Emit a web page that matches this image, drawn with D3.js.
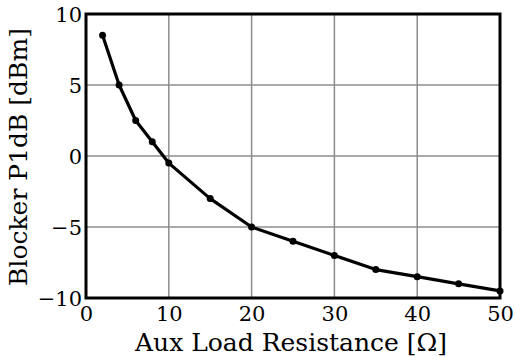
<!DOCTYPE html>
<html><head><meta charset="utf-8">
<script src="https://cdn.jsdelivr.net/npm/d3@7"></script>
<style>
html,body{margin:0;padding:0;background:#fff;}
svg{display:block;}
</style></head>
<body>
<script>
const resistance = [2, 4, 6, 8, 10, 15, 20, 25, 30, 35, 40, 45, 50];
const p1db = [8.5, 5, 2.5, 1, -0.5, -3, -5, -6, -7, -8, -8.5, -9, -9.5];
const xTicks = [0, 10, 20, 30, 40, 50];
const yTicks = [-10, -5, 0, 5, 10];
const xTitle = "Aux Load Resistance [Ω]";
const yTitle = "Blocker P1dB [dBm]";

const FONT = "'DejaVu Serif', serif";
const W = 515, H = 356;
const m = {left: 86, right: 15, top: 14, bottom: 58};
const svg = d3.select("body").append("svg").attr("width", W).attr("height", H)
  .style("font-family", FONT);
const x = d3.scaleLinear().domain([0, 50]).range([m.left, W - m.right]);
const y = d3.scaleLinear().domain([-10, 10]).range([H - m.bottom, m.top]);

// grid
const g = svg.append("g");
g.selectAll(".vx").data(xTicks.slice(1, -1)).join("line")
  .attr("x1", d => x(d)).attr("x2", d => x(d))
  .attr("y1", y(-10)).attr("y2", y(10))
  .attr("stroke", "#8c8c8c").attr("stroke-width", 1.5);
g.selectAll(".hy").data(yTicks.slice(1, -1)).join("line")
  .attr("x1", x(0)).attr("x2", x(50))
  .attr("y1", d => y(d)).attr("y2", d => y(d))
  .attr("stroke", "#8c8c8c").attr("stroke-width", 1.5);

const fmt = d => d < 0 ? "\u2212" + Math.abs(d) : String(d);
const xAxis = svg.append("g").attr("transform", `translate(0,${y(-10)})`)
  .call(d3.axisBottom(x).tickValues(xTicks).tickFormat(fmt).tickSize(0).tickPadding(0));
xAxis.attr("font-family", null).attr("font-size", 21);
xAxis.select(".domain").remove();
xAxis.selectAll("text").style("font-family", FONT).attr("dy", null).attr("y", 23).attr("fill", "#000");

const yAxis = svg.append("g").attr("transform", `translate(${x(0)},0)`)
  .call(d3.axisLeft(y).tickValues(yTicks).tickFormat(fmt).tickSize(0).tickPadding(0));
yAxis.attr("font-family", null).attr("font-size", 21);
yAxis.select(".domain").remove();
yAxis.selectAll("text").style("font-family", FONT).attr("dy", null).attr("x", -4).attr("y", 7.5).attr("fill", "#000");

// frame
svg.append("rect").attr("x", x(0)).attr("y", y(10))
  .attr("width", x(50) - x(0)).attr("height", y(-10) - y(10))
  .attr("fill", "none").attr("stroke", "#000").attr("stroke-width", 3);

// line
const line = d3.line().x((d, i) => x(resistance[i])).y(d => y(d));
svg.append("path").datum(p1db).attr("d", line)
  .attr("fill", "none").attr("stroke", "#000").attr("stroke-width", 3.2)
  .attr("stroke-linejoin", "round");
svg.selectAll(".pt").data(p1db).join("circle")
  .attr("cx", (d, i) => x(resistance[i])).attr("cy", d => y(d)).attr("r", 3.5).attr("fill", "#000");

// titles
svg.append("text").attr("x", (x(0) + x(50)) / 2 - 2).attr("y", 351)
  .attr("text-anchor", "middle").attr("font-size", 25).style("font-family", FONT).text(xTitle);
svg.append("text").attr("transform", `translate(27,${(y(10) + y(-10)) / 2 + 1}) rotate(-90)`)
  .attr("text-anchor", "middle").attr("font-size", 25).style("font-family", FONT).text(yTitle);
</script>
</body></html>
